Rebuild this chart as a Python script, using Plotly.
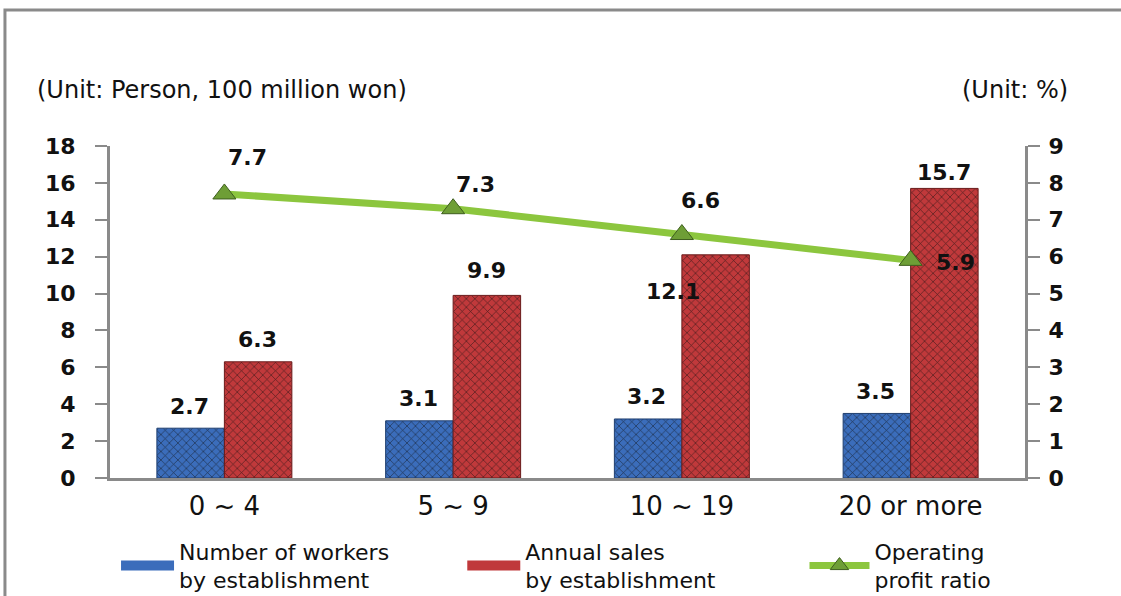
import plotly.graph_objects as go

categories = ["0 ~ 4", "5 ~ 9", "10 ~ 19", "20 or more"]
workers = [2.7, 3.1, 3.2, 3.5]
sales = [6.3, 9.9, 12.1, 15.7]
profit_ratio = [7.7, 7.3, 6.6, 5.9]
left_ticks = list(range(0, 19, 2))
right_ticks = list(range(0, 10, 1))

names = ["Number of workers<br>by establishment", "Annual sales<br>by establishment",
         "Operating<br>profit ratio"]

BLUE = "#3b6dbb"
RED = "#c0393b"
GREEN = "#8cc63e"
GRAY = "#8a8a8a"
FONT = "DejaVu Sans"
TICKFONT = dict(family=FONT, size=22, color="#111111", weight="bold")
LABELFONT = dict(family=FONT, size=22, color="#111111", weight="bold")
LEGFONT = dict(family=FONT, size=22, color="#111111")

fig = go.Figure()
fig.add_trace(go.Bar(
    x=categories, y=workers, name=names[0], showlegend=False,
    marker=dict(color=BLUE, line=dict(color="#1f3f70", width=1),
                pattern=dict(shape="x", fgcolor="#111111", size=6, solidity=0.2, fgopacity=0.7)),
))
fig.add_trace(go.Bar(
    x=categories, y=sales, name=names[1], showlegend=False,
    marker=dict(color=RED, line=dict(color="#6a1a1a", width=1),
                pattern=dict(shape="x", fgcolor="#111111", size=6, solidity=0.2, fgopacity=0.7)),
))
fig.add_trace(go.Scatter(
    x=categories, y=profit_ratio, name=names[2], yaxis="y2", mode="lines+markers",
    line=dict(color=GREEN, width=7),
    marker=dict(symbol="triangle-up", size=20, color="#6e9e36", line=dict(color="#3e5e1e", width=1)),
    legend="legend3",
))
# legend swatches for the bar series
fig.add_trace(go.Scatter(x=[None], y=[None], mode="lines", name=names[0],
                         line=dict(color=BLUE, width=10), legend="legend"))
fig.add_trace(go.Scatter(x=[None], y=[None], mode="lines", name=names[1],
                         line=dict(color=RED, width=10), legend="legend2"))

annotations = []
w_shift = [(-35, 22), (-35, 22), (-35, 22), (-35, 22)]
s_shift = [(33, 22), (33, 25), (-9, -37), (33, 16)]
for c, v, (dx, dy) in zip(categories, workers, w_shift):
    annotations.append(dict(x=c, y=v, xref="x", yref="y", text=str(v), showarrow=False,
                            xshift=dx, yshift=dy, font=LABELFONT))
for c, v, (dx, dy) in zip(categories, sales, s_shift):
    annotations.append(dict(x=c, y=v, xref="x", yref="y", text=str(v), showarrow=False,
                            xshift=dx, yshift=dy, font=LABELFONT))
p_shift = [(23, 36), (22, 24), (19, 34), (45, -2)]
for c, v, (dx, dy) in zip(categories, profit_ratio, p_shift):
    annotations.append(dict(x=c, y=v, xref="x", yref="y2", text=str(v), showarrow=False,
                            xshift=dx, yshift=dy, font=LABELFONT))

annotations.append(dict(x=-0.082, y=1.1687, xref="paper", yref="paper", xanchor="left", yanchor="middle",
                        text="(Unit: Person, 100 million won)", showarrow=False,
                        font=dict(family=FONT, size=24, color="#111111")))
annotations.append(dict(x=1.049, y=1.1687, xref="paper", yref="paper", xanchor="right", yanchor="middle",
                        text="(Unit: %)", showarrow=False,
                        font=dict(family=FONT, size=24, color="#111111")))

leg_common = dict(orientation="h", y=-0.265, xanchor="left", yanchor="middle",
                  font=LEGFONT, bgcolor="rgba(0,0,0,0)", borderwidth=0)

fig.update_layout(
    width=1121, height=596,
    margin=dict(l=110, r=96, t=146, b=118, autoexpand=False),
    paper_bgcolor="white", plot_bgcolor="white",
    barmode="group", bargap=0.41, bargroupgap=0.0,
    showlegend=True,
    legend=dict(x=0.0066, itemwidth=53, **leg_common),
    legend2=dict(x=0.385, itemwidth=53, **leg_common),
    legend3=dict(x=0.759, itemwidth=60, **leg_common),
    xaxis=dict(showline=True, linecolor=GRAY, linewidth=3, ticks="", showgrid=False,
               tickfont=dict(family=FONT, size=26, color="#111111"), ticklabelstandoff=3),
    yaxis=dict(range=[0, 18], tickvals=left_ticks, showgrid=False, zeroline=False,
               showline=True, linecolor=GRAY, linewidth=3, ticks="outside", ticklen=12,
               tickwidth=2, tickcolor=GRAY, tickfont=TICKFONT, ticklabelstandoff=15),
    yaxis2=dict(range=[0, 9], tickvals=right_ticks, overlaying="y", side="right", showgrid=False,
                zeroline=False, showline=True, linecolor=GRAY, linewidth=3, ticks="outside",
                ticklen=12, tickwidth=2, tickcolor=GRAY, tickfont=TICKFONT, ticklabelstandoff=4),
    annotations=annotations,
    shapes=[dict(type="rect", xref="paper", yref="paper", x0=-0.1148, x1=1.12, y0=-0.4, y1=1.4096,
                 line=dict(color=GRAY, width=3), layer="below")],
)

fig.write_html("out.html")
